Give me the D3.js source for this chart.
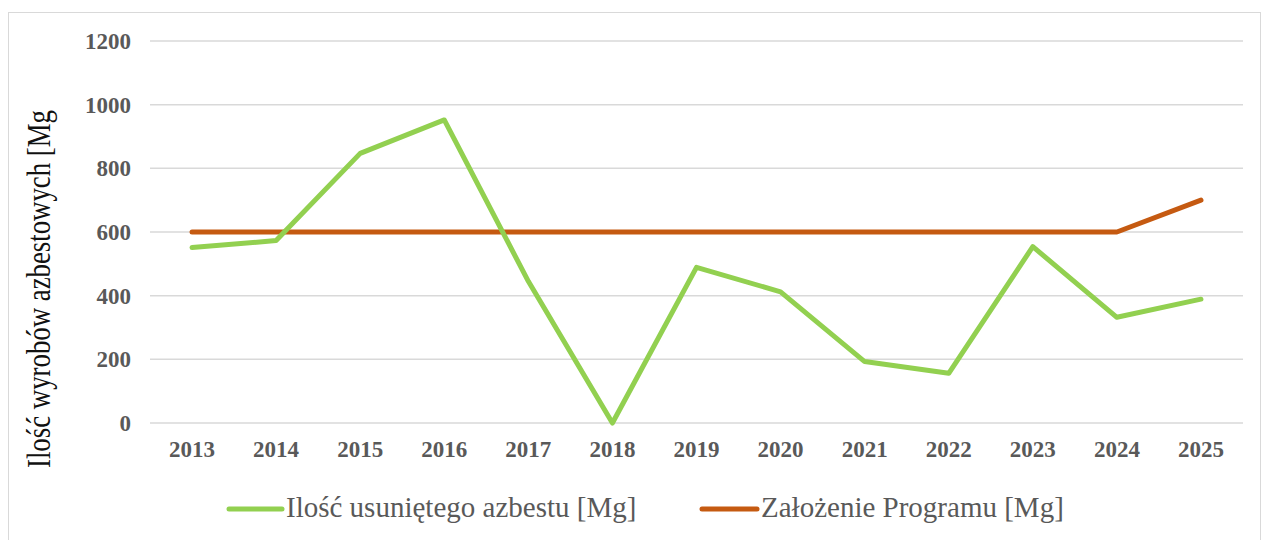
<!DOCTYPE html>
<html><head><meta charset="utf-8">
<script src="https://cdn.jsdelivr.net/npm/d3@7"></script>
<style>body{margin:0;background:#fff;}svg{display:block;}</style>
</head><body>
<svg id="c" width="1263" height="540"></svg>
<script>
const years = ["2013","2014","2015","2016","2017","2018","2019","2020","2021","2022","2023","2024","2025"];
const removed = [551, 573, 847, 952, 445, 0, 489, 412, 193, 156, 554, 332, 389];
const target = [600, 600, 600, 600, 600, 600, 600, 600, 600, 600, 600, 600, 700];
const yTicks = [0, 200, 400, 600, 800, 1000, 1200];
const seriesNames = ["Ilość usuniętego azbestu [Mg]", "Założenie Programu [Mg]"];
const yTitle = "Ilość wyrobów azbestowych [Mg";

const SERIF = '"Liberation Serif"';
const svg = d3.select("#c");
svg.append("rect").attr("x",8.5).attr("y",12.5).attr("width",1252).attr("height",560)
  .attr("fill","#fff").attr("stroke","#d9d9d9").attr("stroke-width",1);

const x = d3.scaleBand().domain(years).range([150,1243]);
const y = d3.scaleLinear().domain([0,1200]).range([423,41]);

svg.append("g").selectAll("line").data(yTicks).join("line")
  .attr("x1",150).attr("x2",1243).attr("y1",d=>y(d)).attr("y2",d=>y(d))
  .attr("stroke","#d9d9d9").attr("stroke-width",1.5);

const yAxis = svg.append("g").attr("transform","translate(150,0)")
  .call(d3.axisLeft(y).tickValues(yTicks).tickSize(0).tickPadding(19).tickFormat(d3.format("d")));
yAxis.attr("font-family",null).attr("font-size",null);
yAxis.select(".domain").remove();
yAxis.selectAll("text").style("font-family",SERIF).style("font-weight","bold")
  .style("font-size","23px").attr("fill","#595959");

const xAxis = svg.append("g").attr("transform","translate(0,423)")
  .call(d3.axisBottom(x).tickSize(0).tickPadding(18));
xAxis.attr("font-family",null).attr("font-size",null);
xAxis.select(".domain").remove();
xAxis.selectAll("text").style("font-family",SERIF).style("font-weight","bold")
  .style("font-size","23px").attr("fill","#595959");

const line = d3.line().x((d,i)=>x(years[i])+x.bandwidth()/2).y(d=>y(d));
const colors = ["#92D050","#C55A11"];
svg.append("path").datum(target).attr("d",line).attr("fill","none")
  .attr("stroke",colors[1]).attr("stroke-width",5).attr("stroke-linecap","round").attr("stroke-linejoin","round");
svg.append("path").datum(removed).attr("d",line).attr("fill","none")
  .attr("stroke",colors[0]).attr("stroke-width",5).attr("stroke-linecap","round").attr("stroke-linejoin","round");

svg.append("text").attr("transform","translate(50,468) rotate(-90)")
  .style("font-family",SERIF).style("font-size","33px")
  .attr("textLength",358).attr("lengthAdjust","spacingAndGlyphs")
  .attr("fill","#111").text(yTitle);

const legX = [[229,282],[702,757]];
seriesNames.forEach((n,i)=>{
  svg.append("line").attr("x1",legX[i][0]).attr("x2",legX[i][1]).attr("y1",509).attr("y2",509)
    .attr("stroke",colors[i]).attr("stroke-width",5).attr("stroke-linecap","round");
  svg.append("text").attr("x",legX[i][1]+4).attr("y",517)
    .style("font-family",SERIF).style("font-size","29px")
    .attr("fill","#595959").text(n);
});
</script>
</body></html>
